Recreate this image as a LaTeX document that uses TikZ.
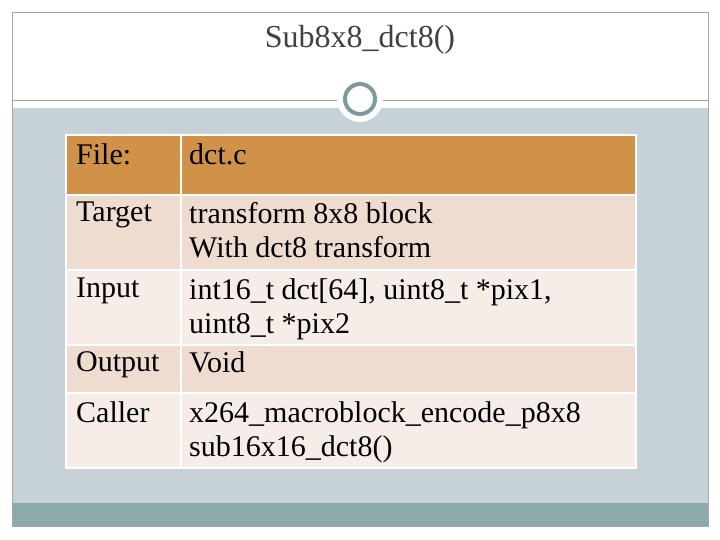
\documentclass[tikz,border=0pt]{standalone}
\usepackage{fontspec}
\setmainfont{Liberation Serif}
\definecolor{bluegray}{HTML}{C6D2D7}
\definecolor{teal2}{HTML}{8CAAAB}
\definecolor{ring}{HTML}{7E9A9A}
\definecolor{hdr}{HTML}{D09248}
\definecolor{rowA}{HTML}{EFDCD1}
\definecolor{rowB}{HTML}{F6EDE9}
\begin{document}
\begin{tikzpicture}[x=1pt,y=-1pt,
  cell/.style={draw=white,line width=2pt},
  txt/.style={anchor=north west,inner sep=0pt,font=\fontsize{30}{34}\selectfont,align=left,text=black}]
\useasboundingbox (0,0) rectangle (720,540);
\fill[white] (0,0) rectangle (720,540);
\fill[bluegray] (12,108) rectangle (708,503);
\fill[teal2] (12,503) rectangle (708,526);
\draw[gray!70,line width=0.8pt] (12,12) rectangle (708,526);
\draw[gray!70,line width=0.8pt] (12,100) -- (708,100);
\fill[white] (360,99) circle (23);
\draw[ring,line width=4pt,fill=white] (360,99) circle (15);
\node[font=\fontsize{32}{36}\selectfont,text=black!75] (title) at (360,40) {Sub8x8\_dct8()};
% table
\filldraw[cell,fill=hdr] (66,135) rectangle (181,195);
\filldraw[cell,fill=hdr] (181,135) rectangle (636,195);
\filldraw[cell,fill=rowA] (66,195) rectangle (181,270);
\filldraw[cell,fill=rowA] (181,195) rectangle (636,270);
\filldraw[cell,fill=rowB] (66,270) rectangle (181,345);
\filldraw[cell,fill=rowB] (181,270) rectangle (636,345);
\filldraw[cell,fill=rowA] (66,345) rectangle (181,393);
\filldraw[cell,fill=rowA] (181,345) rectangle (636,393);
\filldraw[cell,fill=rowB] (66,393) rectangle (181,468);
\filldraw[cell,fill=rowB] (181,393) rectangle (636,468);
\node[txt] (f1) at (76,143) {File:};
\node[txt] (f2) at (189,143) {dct.c};
\node[txt] (t1) at (76,202) {Target};
\node[txt] (t2) at (189,202) {transform 8x8 block\\With dct8 transform};
\node[txt] (i1) at (76,278) {Input};
\node[txt] (i2) at (189,278) {int16\_t dct[64], uint8\_t *pix1,\\uint8\_t *pix2};
\node[txt] (o1) at (76,351) {Output};
\node[txt] (o2) at (189,351) {Void};
\node[txt] (c1) at (76,401) {Caller};
\node[txt] (c2) at (189,401) {x264\_macroblock\_encode\_p8x8\\sub16x16\_dct8()};
\end{tikzpicture}
\end{document}
